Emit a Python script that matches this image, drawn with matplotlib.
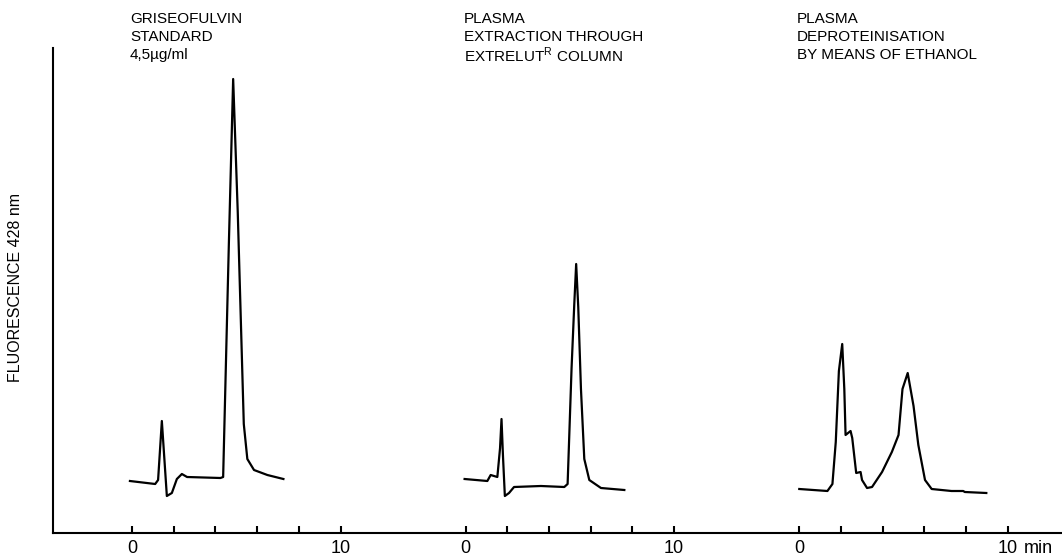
import matplotlib

matplotlib.use("Agg")

import matplotlib.pyplot as plt


# retention time (min) and detector signal (arbitrary units)
STD_TIME = [-0.10, 1.11, 1.25, 1.43, 1.67, 1.91, 2.15, 2.39, 2.64, 4.24,
            4.37, 4.64, 4.85, 5.07, 5.36, 5.53, 5.85, 6.49, 7.26]
STD_SIGNAL = [52, 49, 53, 112, 37, 40, 54, 59, 56, 55,
              56, 286, 454, 321, 109, 74, 63, 58, 54]

EXTRELUT_TIME = [-0.05, 1.04, 1.20, 1.52, 1.65, 1.72, 1.79, 1.88, 2.08, 2.32,
                 3.61, 4.73, 4.89, 5.08, 5.21, 5.30, 5.40, 5.53, 5.69, 5.93,
                 6.49, 7.61]
EXTRELUT_SIGNAL = [54, 52, 58, 56, 85, 114, 77, 37, 40, 46,
                   47, 46, 49, 165, 229, 269, 226, 144, 74, 53,
                   45, 43]

ETHANOL_TIME = [0.0, 1.35, 1.59, 1.75, 1.90, 2.06, 2.16, 2.22, 2.46, 2.54,
                2.73, 2.94, 3.01, 3.25, 3.49, 3.97, 4.44, 4.76, 4.95, 5.20,
                5.48, 5.71, 6.03, 6.35, 7.30, 7.86, 7.94, 8.97]
ETHANOL_SIGNAL = [44, 42, 49, 91, 162, 189, 144, 98, 102, 95,
                  60, 61, 53, 45, 46, 61, 81, 98, 144, 160,
                  127, 88, 53, 44, 42, 42, 41, 40]

PANEL_TITLES = [
    ["GRISEOFULVIN", "STANDARD", "4,5\u00b5g/ml"],
    ["PLASMA", "EXTRACTION THROUGH", r"EXTRELUT$^{\mathrm{R}}$ COLUMN"],
    ["PLASMA", "DEPROTEINISATION", "BY MEANS OF ETHANOL"],
]
TICK_MINUTES = [0, 2, 4, 6, 8, 10]
LABELLED_MINUTES = [0, 10]

PANEL_OFFSETS = [0, 16, 32]
FONT = "Liberation Sans"


def plot_chromatograms(output_path):
    plt.rcParams["font.family"] = [FONT, "DejaVu Sans"]
    plt.rcParams["mathtext.fontset"] = "custom"
    plt.rcParams["mathtext.rm"] = FONT

    fig = plt.figure(figsize=(10.62, 5.55), dpi=100)
    ax = fig.add_axes([53 / 1062, 22 / 555, 1 - 53 / 1062, 533 / 555])
    ax.set_xlim(-3.79, 44.6)
    ax.set_ylim(0, 533)

    traces = [
        (STD_TIME, STD_SIGNAL),
        (EXTRELUT_TIME, EXTRELUT_SIGNAL),
        (ETHANOL_TIME, ETHANOL_SIGNAL),
    ]
    for (times, signal), offset in zip(traces, PANEL_OFFSETS):
        ax.plot([t + offset for t in times], signal, color="black",
                linewidth=1.6, solid_joinstyle="round")

    for title, offset in zip(PANEL_TITLES, PANEL_OFFSETS):
        for i, line in enumerate(title):
            ax.text(offset - 0.1, 514 - 18 * i, line, fontsize=11,
                    ha="left", va="center", clip_on=False)

    major = [m + o for o in PANEL_OFFSETS for m in LABELLED_MINUTES]
    minor = [m + o for o in PANEL_OFFSETS for m in TICK_MINUTES
             if m not in LABELLED_MINUTES]
    ax.set_xticks(major)
    ax.set_xticklabels([str(m) for _ in PANEL_OFFSETS for m in LABELLED_MINUTES])
    ax.set_xticks(minor, minor=True)
    ax.tick_params(axis="x", which="both", direction="in", length=5,
                   width=1.5, labelsize=13, pad=5)
    ax.set_yticks([])
    ax.text(42.75, -7, "min", fontsize=13, ha="left", va="top", clip_on=False)

    for side in ("top", "right"):
        ax.spines[side].set_visible(False)
    ax.spines["left"].set_bounds(0, 485)
    ax.spines["left"].set_linewidth(1.5)
    ax.spines["bottom"].set_linewidth(1.5)

    fig.text(16 / 1062, 1 - 287 / 555, "FLUORESCENCE 428 nm", fontsize=11.5,
             rotation=90, ha="center", va="center")

    fig.savefig(output_path, dpi=100)
    plt.close(fig)


if __name__ == "__main__":
    plot_chromatograms("out.png")
